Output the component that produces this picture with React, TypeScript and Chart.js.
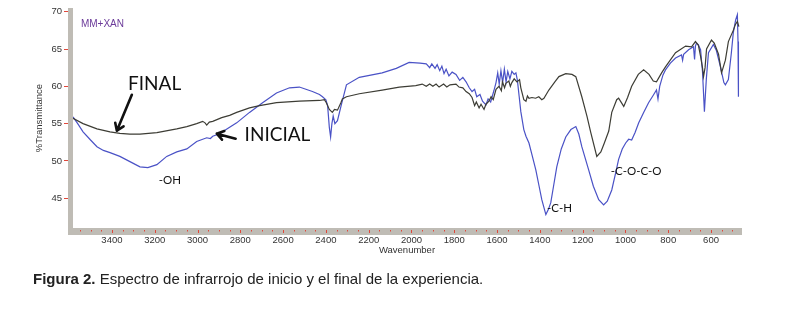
import React, { useEffect, useRef } from 'react';
import { Chart, registerables } from 'chart.js';

Chart.register(...registerables);

const xTickValues = [3400, 3200, 3000, 2800, 2600, 2400, 2200, 2000, 1800, 1600, 1400, 1200, 1000, 800, 600];
const yTickValues = [45, 50, 55, 60, 65, 70];

const finalWavenumber = [3582, 3535, 3470, 3409, 3363, 3316, 3269, 3190, 3097, 3050, 3004, 2976, 2965, 2957, 2945, 2929, 2887, 2850, 2817, 2757, 2710, 2631, 2524, 2430, 2407, 2398, 2384, 2370, 2360, 2346, 2330, 2323, 2304, 2244, 2137, 2057, 1980, 1950, 1931, 1915, 1900, 1885, 1871, 1850, 1835, 1820, 1792, 1778, 1760, 1745, 1730, 1717, 1705, 1697, 1684, 1675, 1661, 1652, 1638, 1628, 1618, 1605, 1591, 1580, 1575, 1565, 1559, 1545, 1538, 1531, 1520, 1507, 1495, 1489, 1475, 1465, 1458, 1451, 1437, 1420, 1405, 1391, 1381, 1358, 1330, 1311, 1279, 1250, 1232, 1204, 1180, 1162, 1134, 1115, 1100, 1078, 1064, 1041, 1032, 1008, 990, 971, 940, 915, 890, 870, 855, 831, 813, 766, 719, 691, 673, 659, 649, 640, 635, 628, 621, 598, 585, 565, 551, 533, 519, 496, 486, 477, 470];
const finalTransmittance = [55.7, 55.0, 54.3, 53.9, 53.7, 53.6, 53.6, 53.8, 54.3, 54.6, 55.0, 55.3, 55.1, 54.8, 55.2, 55.3, 55.8, 56.1, 56.5, 57.1, 57.4, 57.8, 58.0, 58.1, 58.2, 57.8, 56.9, 56.5, 56.9, 56.8, 57.8, 58.3, 58.6, 59.0, 59.5, 59.9, 60.1, 60.3, 60.0, 60.3, 60.0, 60.3, 59.9, 60.3, 59.9, 60.2, 60.3, 59.9, 59.8, 59.3, 59.0, 58.5, 57.4, 57.9, 57.1, 57.6, 56.9, 57.6, 58.0, 58.6, 58.2, 59.6, 60.0, 59.4, 60.6, 59.8, 60.4, 60.7, 60.0, 60.5, 61.0, 60.6, 60.9, 59.8, 58.2, 58.0, 58.7, 58.4, 58.5, 58.4, 58.6, 58.2, 58.4, 59.5, 60.6, 61.3, 61.7, 61.6, 61.3, 58.6, 56.0, 53.8, 50.6, 51.2, 52.3, 54.0, 56.5, 58.2, 58.4, 57.3, 58.5, 60.0, 61.6, 62.2, 61.6, 60.7, 60.6, 61.8, 62.6, 64.5, 65.4, 65.3, 66.0, 65.5, 64.0, 62.5, 61.3, 62.5, 65.0, 66.2, 65.8, 64.3, 61.8, 63.5, 66.0, 67.5, 68.3, 68.7, 68.0];

const initialWavenumber = [3582, 3560, 3535, 3500, 3470, 3440, 3409, 3363, 3316, 3269, 3232, 3190, 3144, 3097, 3050, 3004, 2957, 2940, 2929, 2900, 2883, 2817, 2757, 2696, 2631, 2570, 2524, 2463, 2430, 2416, 2400, 2392, 2384, 2378, 2372, 2366, 2358, 2346, 2328, 2304, 2244, 2137, 2071, 2011, 1960, 1931, 1915, 1905, 1890, 1880, 1868, 1858, 1848, 1838, 1825, 1810, 1792, 1775, 1760, 1745, 1730, 1717, 1705, 1695, 1680, 1668, 1652, 1642, 1630, 1615, 1605, 1597, 1590, 1582, 1574, 1566, 1558, 1550, 1540, 1531, 1520, 1512, 1505, 1497, 1489, 1475, 1465, 1451, 1435, 1419, 1405, 1391, 1372, 1360, 1349, 1335, 1321, 1300, 1279, 1255, 1232, 1218, 1204, 1172, 1150, 1125, 1102, 1085, 1064, 1045, 1032, 1015, 999, 985, 971, 955, 938, 915, 892, 870, 855, 848, 840, 825, 813, 790, 766, 738, 733, 728, 705, 682, 677, 673, 668, 660, 649, 640, 631, 622, 612, 589, 575, 556, 540, 533, 519, 505, 496, 485, 477, 474, 472];
const initialTransmittance = [55.9, 55.0, 53.9, 52.8, 51.9, 51.4, 51.1, 50.6, 49.9, 49.2, 49.1, 49.5, 50.6, 51.2, 51.6, 52.6, 53.1, 53.0, 53.3, 53.6, 53.9, 55.1, 56.5, 57.8, 59.1, 59.8, 59.9, 59.3, 58.9, 58.6, 58.2, 57.4, 54.5, 53.2, 55.0, 56.0, 55.0, 55.4, 57.5, 60.2, 61.2, 61.8, 62.4, 63.2, 63.1, 63.0, 62.5, 63.0, 62.4, 62.9, 62.1, 62.7, 61.7, 62.3, 61.4, 61.9, 61.6, 60.8, 61.2, 60.6, 59.8, 59.3, 59.6, 58.6, 58.9, 58.0, 57.5, 58.3, 57.9, 59.4, 60.5, 61.8, 60.3, 62.1, 60.5, 62.3, 60.6, 62.0, 61.0, 62.0, 61.6, 61.8, 60.8, 58.7, 56.6, 54.2, 53.3, 52.4, 50.6, 48.8, 46.8, 44.8, 42.8, 43.5, 44.4, 46.8, 49.2, 51.6, 53.2, 54.2, 54.6, 53.6, 51.9, 48.8, 46.6, 44.8, 44.1, 44.6, 46.1, 48.5, 50.2, 51.6, 52.4, 52.9, 52.8, 53.8, 55.1, 56.5, 57.8, 58.8, 59.5, 58.3, 60.0, 61.5, 62.2, 63.1, 63.8, 64.2, 63.5, 64.3, 64.9, 65.3, 63.6, 65.4, 65.8, 65.6, 64.9, 62.0, 56.6, 61.0, 64.5, 65.6, 64.8, 62.6, 60.5, 60.2, 60.9, 64.5, 67.2, 68.9, 69.6, 66.0, 58.6];

const annotationTexts = [
  { text: 'MM+XAN', w: 3545, t: 68.26, font: '10px "Liberation Sans Narrow", "Liberation Sans", Arial', color: '#6b3a99' },
  { text: 'FINAL', w: 3325, t: 60.35, font: '19px Lato, "Open Sans", sans-serif', color: '#111' },
  { text: 'INICIAL', w: 2780, t: 53.45, font: '19px Lato, "Open Sans", sans-serif', color: '#111' },
  { text: '-OH', w: 3181, t: 47.35, font: '11.5px Lato, "Open Sans", sans-serif', color: '#111' },
  { text: '-C-H', w: 1367, t: 43.6, font: '11.5px Lato, "Open Sans", sans-serif', color: '#111' },
  { text: '-C-O-C-O', w: 1069, t: 48.55, font: '11.5px Lato, "Open Sans", sans-serif', color: '#111' },
];

const annotationArrows = [
  { from: [3307, 58.87], to: [3377, 54.05] },
  { from: [2822, 52.98], to: [2910, 53.65] },
];

const minorStep = 50;

const framePlugin = {
  id: 'framePlugin',
  beforeDatasetsDraw(chart: any) {
    const { ctx, chartArea, scales } = chart;
    const xs = scales.x;
    ctx.save();
    ctx.fillStyle = '#bfbcb5';
    ctx.fillRect(chartArea.left - 5, chartArea.top, 5, chartArea.bottom - chartArea.top + 7);
    ctx.fillRect(chartArea.left - 5, chartArea.bottom, chartArea.right - chartArea.left + 6, 7);
    ctx.strokeStyle = '#e0473a';
    ctx.lineWidth = 1;
    for (let w = Math.ceil(xs.min / minorStep) * minorStep; w <= xs.max; w += minorStep) {
      const px = Math.round(xs.getPixelForValue(w)) + 0.5;
      const major = w % 200 === 0;
      ctx.beginPath();
      ctx.moveTo(px, chartArea.bottom + 2);
      ctx.lineTo(px, chartArea.bottom + (major ? 5 : 3.5));
      ctx.stroke();
    }
    ctx.restore();
  },
  afterDatasetsDraw(chart: any) {
    const { ctx, scales } = chart;
    const xs = scales.x;
    const ys = scales.y;
    ctx.save();
    ctx.textBaseline = 'middle';
    ctx.textAlign = 'left';
    for (const a of annotationTexts) {
      ctx.font = a.font;
      ctx.fillStyle = a.color;
      ctx.fillText(a.text, xs.getPixelForValue(a.w), ys.getPixelForValue(a.t));
    }
    ctx.strokeStyle = '#111';
    ctx.lineWidth = 2.6;
    ctx.lineCap = 'round';
    ctx.lineJoin = 'round';
    for (const ar of annotationArrows) {
      const x1 = xs.getPixelForValue(ar.from[0]);
      const y1 = ys.getPixelForValue(ar.from[1]);
      const x2 = xs.getPixelForValue(ar.to[0]);
      const y2 = ys.getPixelForValue(ar.to[1]);
      const ang = Math.atan2(y2 - y1, x2 - x1);
      const hl = 8;
      ctx.beginPath();
      ctx.moveTo(x1, y1);
      ctx.lineTo(x2, y2);
      ctx.moveTo(x2 - hl * Math.cos(ang - 0.6), y2 - hl * Math.sin(ang - 0.6));
      ctx.lineTo(x2, y2);
      ctx.lineTo(x2 - hl * Math.cos(ang + 0.6), y2 - hl * Math.sin(ang + 0.6));
      ctx.stroke();
    }
    ctx.restore();
  },
};

export default function App() {
  const canvasRef = useRef<HTMLCanvasElement | null>(null);

  useEffect(() => {
    if (!canvasRef.current) return;
    const tickFont = { family: '"Liberation Sans Narrow", "Liberation Sans", Arial', size: 9.5 };
    const chart = new Chart(canvasRef.current, {
      type: 'line',
      data: {
        datasets: [
          {
            label: 'FINAL',
            data: finalWavenumber.map((w, i) => ({ x: w, y: finalTransmittance[i] })),
            borderColor: '#3d3d35',
            borderWidth: 1.2,
            pointRadius: 0,
            tension: 0,
            fill: false,
          },
          {
            label: 'INICIAL',
            data: initialWavenumber.map((w, i) => ({ x: w, y: initialTransmittance[i] })),
            borderColor: '#4a52c6',
            borderWidth: 1.2,
            pointRadius: 0,
            tension: 0,
            fill: false,
          },
        ],
      },
      options: {
        animation: false,
        responsive: false,
        maintainAspectRatio: false,
        layout: { padding: { left: 0, right: 47, top: 8, bottom: 0 } },
        plugins: { legend: { display: false }, tooltip: { enabled: false } },
        scales: {
          x: {
            type: 'linear',
            reverse: true,
            min: 460,
            max: 3582,
            afterBuildTicks: (s: any) => { s.ticks = xTickValues.map((v) => ({ value: v })); },
            afterFit: (s: any) => { s.height = 81; },
            grid: { drawOnChartArea: false, drawTicks: true, tickLength: 7, tickColor: 'rgba(0,0,0,0)' },
            border: { display: false },
            ticks: {
              font: tickFont,
              color: '#333',
              padding: 0,
              maxRotation: 0,
              autoSkip: false,
              callback: (v: any) => String(v),
            },
            title: {
              display: true,
              text: 'Wavenumber',
              font: tickFont,
              color: '#333',
              padding: { top: 0, bottom: 53 },
            },
          },
          y: {
            type: 'linear',
            min: 41,
            max: 70.5,
            afterBuildTicks: (s: any) => { s.ticks = yTickValues.map((v) => ({ value: v })); },
            afterFit: (s: any) => { s.width = 73; },
            grid: { drawOnChartArea: false, drawTicks: true, tickLength: 9, tickColor: '#e0473a' },
            border: { display: false },
            ticks: { font: tickFont, color: '#333', padding: 2, callback: (v: any) => String(v) },
            title: {
              display: true,
              text: '%Transmittance',
              font: tickFont,
              color: '#333',
              padding: { top: 34, bottom: 0 },
            },
          },
        },
      },
      plugins: [framePlugin],
    });
    return () => chart.destroy();
  }, []);

  return (
    <div style={{ position: 'absolute', left: 0, top: 0, width: 788, height: 309, background: '#fff', overflow: 'hidden' }}>
      <canvas ref={canvasRef} width={788} height={309} style={{ position: 'absolute', left: 0, top: 0 }} />
      <div
        style={{
          position: 'absolute',
          left: 33,
          top: 270,
          fontFamily: '"Liberation Sans", Arial, sans-serif',
          fontSize: 15,
          lineHeight: '18px',
          color: '#222',
          whiteSpace: 'nowrap',
        }}
      >
        <b>Figura 2.</b> Espectro de infrarrojo de inicio y el final de la experiencia.
      </div>
    </div>
  );
}
